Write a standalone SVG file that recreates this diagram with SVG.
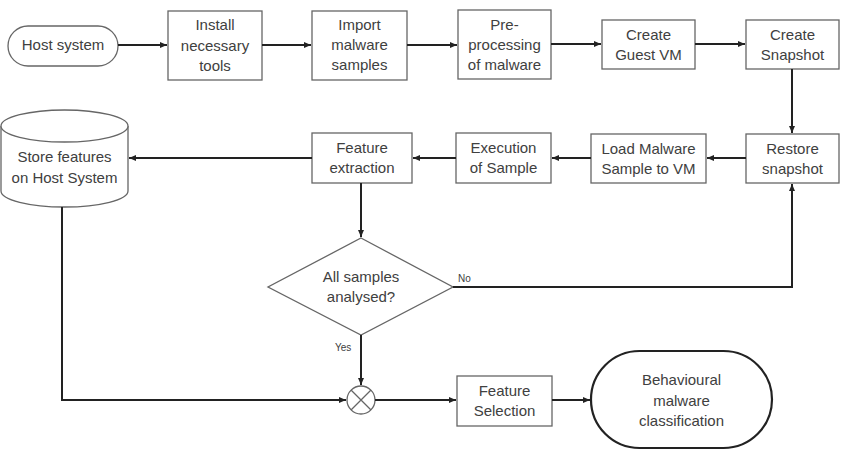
<svg xmlns="http://www.w3.org/2000/svg" width="847" height="450" viewBox="0 0 847 450">
<style>
.box{fill:#fff;stroke:#666;stroke-width:1.3}
.thick{fill:#fff;stroke:#222;stroke-width:2.2}
.t{font-family:"Liberation Sans",Arial,sans-serif;font-size:15px;fill:#404040;text-anchor:middle}
.s{font-family:"Liberation Sans",Arial,sans-serif;font-size:10px;fill:#404040}
.c{fill:none;stroke:#222;stroke-width:2}
</style>
<defs>
<marker id="a" markerWidth="8" markerHeight="8" refX="7" refY="4" orient="auto" markerUnits="userSpaceOnUse">
<path d="M0,1 L7,4 L0,7 Z" fill="#222"/>
</marker>
</defs>
<g id="host"><rect class="box" x="8" y="26" width="110" height="40" rx="20" stroke="#555"/><text class="t" x="63" y="50">Host system</text></g>
<g id="install"><rect class="box" x="168" y="11" width="94" height="69"/><text class="t" x="215" y="30">Install</text><text class="t" x="215" y="51">necessary</text><text class="t" x="215" y="71">tools</text></g>
<g id="import"><rect class="box" x="312" y="11" width="95" height="69"/><text class="t" x="359.5" y="30">Import</text><text class="t" x="359.5" y="50">malware</text><text class="t" x="359.5" y="70">samples</text></g>
<g id="preproc"><rect class="box" x="458" y="10" width="93" height="69"/><text class="t" x="504.5" y="30">Pre-</text><text class="t" x="504.5" y="50">processing</text><text class="t" x="504.5" y="70">of malware</text></g>
<g id="guestvm"><rect class="box" x="602" y="20" width="93" height="49"/><text class="t" x="648.5" y="40">Create</text><text class="t" x="648.5" y="60">Guest VM</text></g>
<g id="snapshot"><rect class="box" x="746" y="20" width="93" height="49"/><text class="t" x="792.5" y="40">Create</text><text class="t" x="792.5" y="60">Snapshot</text></g>
<g id="restore"><rect class="box" x="746" y="134" width="93" height="49"/><text class="t" x="792.5" y="154">Restore</text><text class="t" x="792.5" y="174">snapshot</text></g>
<g id="load"><rect class="box" x="591" y="134" width="115" height="49"/><text class="t" x="648.5" y="154">Load Malware</text><text class="t" x="648.5" y="174">Sample to VM</text></g>
<g id="execution"><rect class="box" x="456" y="133" width="95" height="50"/><text class="t" x="503.5" y="153">Execution</text><text class="t" x="503.5" y="173">of Sample</text></g>
<g id="extraction"><rect class="box" x="312" y="133" width="100" height="50"/><text class="t" x="362" y="153">Feature</text><text class="t" x="362" y="173">extraction</text></g>
<g id="store"><path class="box" d="M1,126 A63.5,16 0 0 1 128,126 L128,191 A63.5,16 0 0 1 1,191 Z"/><path class="box" fill="none" d="M1,126 A63.5,16 0 0 0 128,126"/><text class="t" x="64.5" y="162">Store features</text><text class="t" x="64.5" y="183">on Host System</text></g>
<g id="decision"><polygon class="box" points="361,238 453,287 361,335 268,287"/><text class="t" x="361" y="282">All samples</text><text class="t" x="361" y="302">analysed?</text></g>
<g id="join"><circle class="box" cx="361" cy="400" r="14"/><path class="box" d="M351,390 L371,410 M371,390 L351,410"/></g>
<g id="selection"><rect class="box" x="457" y="376" width="95" height="50"/><text class="t" x="504.5" y="396">Feature</text><text class="t" x="504.5" y="416">Selection</text></g>
<g id="classification"><rect class="thick" x="591" y="351" width="181" height="97" rx="48.5"/><text class="t" x="681.5" y="385">Behavioural</text><text class="t" x="681.5" y="406">malware</text><text class="t" x="681.5" y="426">classification</text></g>
<g id="connectors">
<path class="c" d="M118,45 L167,45" marker-end="url(#a)"/>
<path class="c" d="M262,45 L311,45" marker-end="url(#a)"/>
<path class="c" d="M407,45 L457,45" marker-end="url(#a)"/>
<path class="c" d="M551,44 L601,44" marker-end="url(#a)"/>
<path class="c" d="M695,44 L745,44" marker-end="url(#a)"/>
<path class="c" d="M792,69 L792,133" marker-end="url(#a)"/>
<path class="c" d="M746,158 L707,158" marker-end="url(#a)"/>
<path class="c" d="M591,158 L552,158" marker-end="url(#a)"/>
<path class="c" d="M456,158 L413,158" marker-end="url(#a)"/>
<path class="c" d="M312,158 L129,158" marker-end="url(#a)"/>
<path class="c" d="M361,183 L361,237" marker-end="url(#a)"/>
<path class="c" d="M453,287 L792,287 L792,184" marker-end="url(#a)"/>
<path class="c" d="M361,335 L361,385" marker-end="url(#a)"/>
<path class="c" d="M62,207 L62,400 L346,400" marker-end="url(#a)"/>
<path class="c" d="M375,400 L456,400" marker-end="url(#a)"/>
<path class="c" d="M552,400 L590,400" marker-end="url(#a)"/>
<text class="s" x="458" y="282">No</text>
<text class="s" x="335" y="351">Yes</text>
</g>
</svg>
